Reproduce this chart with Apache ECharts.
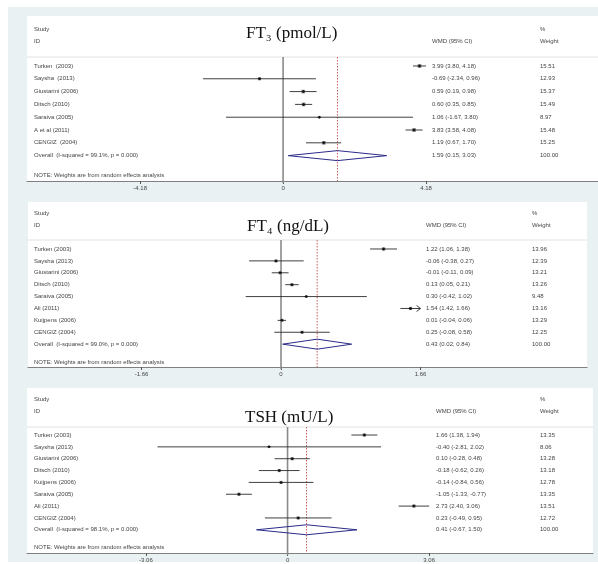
<!DOCTYPE html>
<html><head><meta charset="utf-8">
<script src="https://cdn.jsdelivr.net/npm/echarts@6/dist/echarts.min.js"></script>
<style>html,body{margin:0;padding:0;background:#fff}#c{width:598px;height:564px}</style>
</head><body><div id="c"></div>
<script>
// ---------- DATA ----------
const ft3Studies = ['Turken  (2003)', 'Saysha  (2013)', 'Giustarini (2006)', 'Ditsch (2010)', 'Saraiva (2005)', 'A et al (2011)', 'CENGIZ  (2004)'];
const ft3Est = [3.99, -0.69, 0.59, 0.60, 1.06, 3.83, 1.19];
const ft3Lo  = [3.80, -2.34, 0.19, 0.35, -1.67, 3.58, 0.67];
const ft3Hi  = [4.18, 0.96, 0.98, 0.85, 3.80, 4.08, 1.70];
const ft3Weight = [15.51, 12.93, 15.37, 15.49, 8.97, 15.48, 15.25];
const ft3Clipped = [false, false, false, false, false, false, false];
const ft3OverallLabel = 'Overall  (I-squared = 99.1%, p = 0.000)';
const ft3Overall = [1.59, 0.15, 3.03, 100.00];
const ft3Ticks = [-4.18, 0, 4.18];

const ft4Studies = ['Turken (2003)', 'Saysha (2013)', 'Giustarini (2006)', 'Ditsch (2010)', 'Saraiva (2005)', 'Ali (2011)', 'Kuijpens (2006)', 'CENGIZ (2004)'];
const ft4Est = [1.22, -0.06, -0.01, 0.13, 0.30, 1.54, 0.01, 0.25];
const ft4Lo  = [1.06, -0.38, -0.11, 0.05, -0.42, 1.42, -0.04, -0.08];
const ft4Hi  = [1.38, 0.27, 0.09, 0.21, 1.02, 1.66, 0.06, 0.58];
const ft4Weight = [13.96, 12.39, 13.21, 13.26, 9.48, 13.16, 13.29, 12.25];
const ft4Clipped = [false, false, false, false, false, true, false, false];
const ft4OverallLabel = 'Overall  (I-squared = 99.0%, p = 0.000)';
const ft4Overall = [0.43, 0.02, 0.84, 100.00];
const ft4Ticks = [-1.66, 0, 1.66];

const tshStudies = ['Turken (2003)', 'Saysha (2013)', 'Giustarini (2006)', 'Ditsch (2010)', 'Kuijpens (2006)', 'Saraiva (2005)', 'Ali (2011)', 'CENGIZ (2004)'];
const tshEst = [1.66, -0.40, 0.10, -0.18, -0.14, -1.05, 2.73, 0.23];
const tshLo  = [1.38, -2.81, -0.28, -0.62, -0.84, -1.33, 2.40, -0.49];
const tshHi  = [1.94, 2.02, 0.48, 0.26, 0.56, -0.77, 3.06, 0.95];
const tshWeight = [13.35, 8.06, 13.28, 13.18, 12.78, 13.35, 13.51, 12.72];
const tshClipped = [false, false, false, false, false, false, false, false];
const tshOverallLabel = 'Overall  (I-squared = 98.1%, p = 0.000)';
const tshOverall = [0.41, -0.67, 1.50, 100.00];
const tshTicks = [-3.06, 0, 3.06];

const titles = ['FT\u2083 (pmol/L)', 'FT\u2084 (ng/dL)', 'TSH (mU/L)'];
const noteText = 'NOTE: Weights are from random effects analysis';

// ---------- LAYOUT ----------
const layouts = [
  {left: 27, top: 16, width: 571, height: 165, xMin: -7.49, xMax: 9.21, yMin: -3.9, yMax: 8.98,
   studyY: 29, idY: 41, titleY: 34, sepY: 57, noteY: 175, titleX: 246, ciX: 432, wX: 540},
  {left: 28, top: 202, width: 559, height: 165, xMin: -3.01, xMax: 3.64, yMin: -3.95, yMax: 9.92,
   studyY: 213, idY: 225, titleY: 227, sepY: 240, noteY: 362, titleX: 247, ciX: 426, wX: 532},
  {left: 27, top: 388, width: 566, height: 165, xMin: -5.63, xMax: 6.60, yMin: -3.97, yMax: 9.96,
   studyY: 399, idY: 411, titleY: 418, sepY: 427, noteY: 547, titleX: 245, ciX: 436, wX: 540}
];

const panels = [
  {studies: ft3Studies, est: ft3Est, lo: ft3Lo, hi: ft3Hi, w: ft3Weight, clip: ft3Clipped, oLabel: ft3OverallLabel, overall: ft3Overall, ticks: ft3Ticks},
  {studies: ft4Studies, est: ft4Est, lo: ft4Lo, hi: ft4Hi, w: ft4Weight, clip: ft4Clipped, oLabel: ft4OverallLabel, overall: ft4Overall, ticks: ft4Ticks},
  {studies: tshStudies, est: tshEst, lo: tshLo, hi: tshHi, w: tshWeight, clip: tshClipped, oLabel: tshOverallLabel, overall: tshOverall, ticks: tshTicks}
];

const SANS = 'Liberation Sans, Arial, sans-serif';
const SERIF = 'Liberation Serif, DejaVu Serif, serif';
const TXT = '#444';
const FS = 6;

function fmt(v){ return v.toFixed(2); }
function ciText(e,l,h){ return fmt(e) + ' (' + fmt(l) + ', ' + fmt(h) + ')'; }

function txt(text, x, y, opt){
  return {type:'text', silent:true, style:Object.assign({text:text, x:x, y:y, fill:TXT, fontSize:FS, fontFamily:SANS, align:'left', verticalAlign:'middle'}, opt||{})};
}

const grids = [], xAxes = [], yAxes = [], series = [];
panels.forEach(function(p, k){
  const L = layouts[k];
  grids.push({left:L.left, top:L.top, width:L.width, height:L.height, show:true, backgroundColor:'#ffffff', borderWidth:0, containLabel:false});
  xAxes.push({type:'value', gridIndex:k, min:L.xMin, max:L.xMax, position:'bottom',
    axisLine:{show:true, onZero:false, lineStyle:{color:'#808080', width:1.2}},
    splitLine:{show:false},
    axisTick:{show:true, customValues:p.ticks, length:3, lineStyle:{color:'#555'}},
    axisLabel:{show:true, customValues:p.ticks, fontSize:FS, color:TXT, fontFamily:SANS, margin:4,
      formatter:function(v){ return v === 0 ? '0' : v.toFixed(2); }}});
  yAxes.push({type:'value', gridIndex:k, inverse:true, min:L.yMin, max:L.yMax, show:false});

  const n = p.studies.length;
  const rows = p.studies.map(function(s,i){ return [i, p.est[i], p.lo[i], p.hi[i], p.w[i]]; });

  series.push({type:'custom', xAxisIndex:k, yAxisIndex:k, silent:true, z:1, data:[[0]],
    renderItem:function(params, api){
      const cs = params.coordSys;
      const bottom = cs.y + cs.height;
      const z0 = api.coord([0, 0])[0];
      const ov = api.coord([p.overall[0], 0])[0];
      const ch = [];
      ch.push({type:'line', shape:{x1:cs.x, y1:L.sepY, x2:cs.x+cs.width, y2:L.sepY}, style:{stroke:'#e2e2e2', lineWidth:1}});
      ch.push({type:'line', shape:{x1:z0, y1:L.sepY, x2:z0, y2:bottom+2}, style:{stroke:'#8a8a8a', lineWidth:1.6}});
      ch.push({type:'line', shape:{x1:ov, y1:L.sepY, x2:ov, y2:bottom}, style:{stroke:'#c24a4a', lineWidth:0.9, lineDash:[1.5,1.5]}});
      ch.push(txt('Study', 34, L.studyY));
      ch.push(txt('ID', 34, L.idY));
      ch.push(txt('WMD (95% CI)', L.ciX, L.idY));
      ch.push(txt('%', L.wX, L.studyY));
      ch.push(txt('Weight', L.wX, L.idY));
      ch.push(txt(noteText, 34, L.noteY));
      ch.push({type:'text', silent:true, style:{text:titles[k], x:L.titleX, y:L.titleY, fill:'#111', fontSize:17, fontFamily:SERIF, align:'left', verticalAlign:'middle'}});
      return {type:'group', children:ch};
    }});

  series.push({type:'custom', xAxisIndex:k, yAxisIndex:k, silent:true, z:3, data:rows,
    renderItem:function(params, api){
      const i = params.dataIndex;
      const row = api.value(0), e = api.value(1), l = api.value(2), h = api.value(3), w = api.value(4);
      const pe = api.coord([e, row]), pl = api.coord([l, row]), ph = api.coord([h, row]);
      const y = pe[1];
      const s = w * 0.24;
      const ch = [];
      ch.push({type:'line', shape:{x1:pl[0], y1:y, x2:ph[0], y2:y}, style:{stroke:'#2a2a2a', lineWidth:0.9}});
      if (p.clip[i]) {
        ch.push({type:'polyline', shape:{points:[[ph[0]-4, y-3],[ph[0], y],[ph[0]-4, y+3]]}, style:{stroke:'#2a2a2a', fill:null, lineWidth:0.9}});
      }
      ch.push({type:'rect', shape:{x:pe[0]-s/2, y:y-s/2, width:s, height:s}, style:{fill:'#8c8c8c'}});
      ch.push({type:'polygon', shape:{points:[[pe[0]-2, y],[pe[0], y-1.5],[pe[0]+2, y],[pe[0], y+1.5]]}, style:{fill:'#111'}});
      ch.push(txt(p.studies[i], 34, y));
      ch.push(txt(ciText(e,l,h), L.ciX, y));
      ch.push(txt(w.toFixed(2), L.wX, y));
      return {type:'group', children:ch};
    }});

  series.push({type:'custom', xAxisIndex:k, yAxisIndex:k, silent:true, z:3,
    data:[[n, p.overall[0], p.overall[1], p.overall[2], p.overall[3]]],
    renderItem:function(params, api){
      const row = api.value(0), e = api.value(1), l = api.value(2), h = api.value(3), w = api.value(4);
      const pe = api.coord([e, row]), pl = api.coord([l, row]), ph = api.coord([h, row]);
      const y = pe[1];
      return {type:'group', children:[
        {type:'polygon', shape:{points:[[pl[0], y],[pe[0], y-5],[ph[0], y],[pe[0], y+5]]}, style:{fill:'rgba(0,0,0,0)', stroke:'#2b2b8a', lineWidth:1}},
        txt(p.oLabel, 34, y),
        txt(ciText(e,l,h), L.ciX, y),
        txt(w.toFixed(2), L.wX, y)
      ]};
    }});
});

const chart = echarts.init(document.getElementById('c'), null, {renderer:'canvas'});
chart.setOption({
  backgroundColor:'#ffffff',
  animation:false,
  graphic:[{type:'rect', z:-100, silent:true, shape:{x:8, y:7, width:590, height:555}, style:{fill:'#eaf1f3'}}],
  grid:grids, xAxis:xAxes, yAxis:yAxes, series:series
});
</script></body></html>
